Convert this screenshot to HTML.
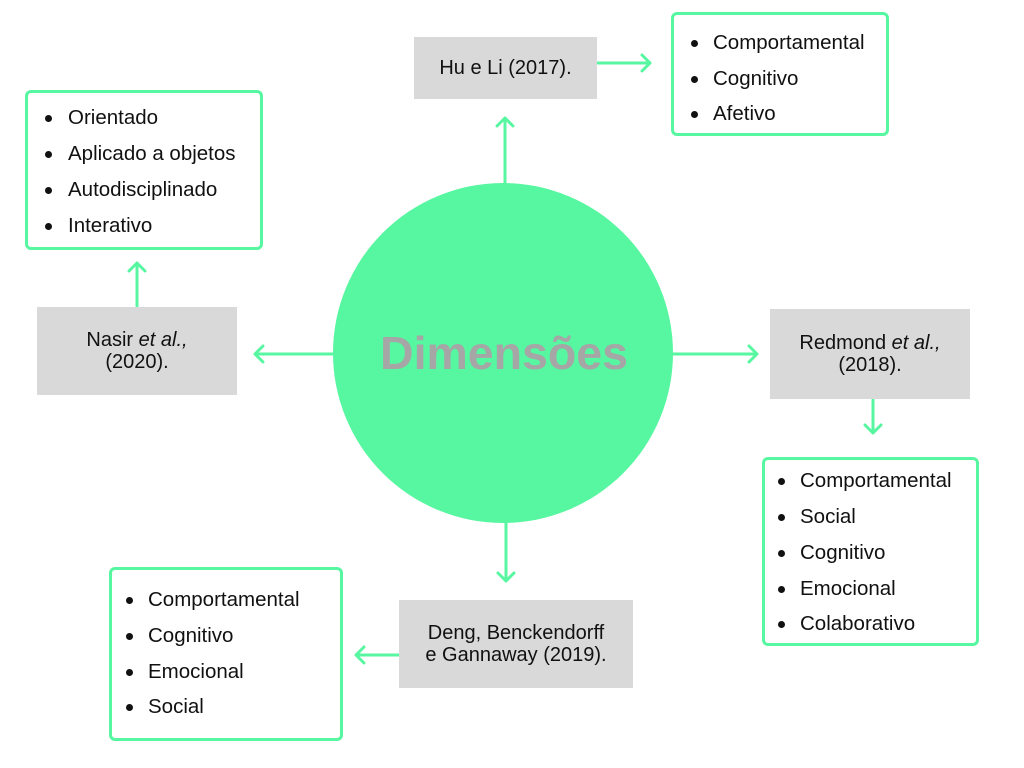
<!DOCTYPE html>
<html><head><meta charset="utf-8"><style>
body{margin:0;width:1024px;height:768px;background:#fff;position:relative;overflow:hidden;font-family:"Liberation Sans",sans-serif;color:#111}
.b{position:absolute;border:3px solid #57f6a0;border-radius:6px;box-sizing:border-box}
.g{position:absolute;background:#d9d9d9;text-align:center;font-size:20px;line-height:22px;box-sizing:border-box}
.t{position:absolute;font-size:20.5px;line-height:24px;height:24px;white-space:nowrap}
.d{position:absolute;width:7px;height:7px;border-radius:50%;background:#111}
</style></head><body>
<svg width="1024" height="768" style="position:absolute;left:0;top:0">
<circle cx="503" cy="353" r="170" fill="#57f6a0"/>
<g stroke="#57f6a0" stroke-width="3" fill="none" stroke-linecap="round" stroke-linejoin="round">
<path d="M505 183V118M497 126l8-8 8 8"/>
<path d="M598 63H650M642 55l8 8-8 8"/>
<path d="M137 306V263M129 271l8-8 8 8"/>
<path d="M333 354H255M263 346l-8 8 8 8"/>
<path d="M673 354H757M749 346l8 8-8 8"/>
<path d="M873 400V433M865 425l8 8 8-8"/>
<path d="M506 522V581M498 573l8 8 8-8"/>
<path d="M399 655H356M364 647l-8 8 8 8"/>
</g>
<text x="504" y="369" text-anchor="middle" font-family="Liberation Sans" font-weight="bold" font-size="46" fill="#a6a6a6" textLength="248" lengthAdjust="spacingAndGlyphs">Dimensões</text>
</svg>
<div class="g" style="left:414px;top:37px;width:183px;height:62px;padding-top:20px">Hu e Li (2017).</div>
<div class="g" style="left:37px;top:307px;width:200px;height:88px;padding-top:22px">Nasir <i>et al.,</i><br>(2020).</div>
<div class="g" style="left:770px;top:309px;width:200px;height:90px;padding-top:23px">Redmond <i>et al.,</i><br>(2018).</div>
<div class="g" style="left:399px;top:600px;width:234px;height:88px;padding-top:22px">Deng, Benckendorff<br>e Gannaway (2019).</div>

<div class="b" style="left:671px;top:12px;width:218px;height:124px"></div>
<div class="d" style="left:691px;top:40px"></div><div class="t" style="left:713px;top:31px">Comportamental</div>
<div class="d" style="left:691px;top:76px"></div><div class="t" style="left:713px;top:67px">Cognitivo</div>
<div class="d" style="left:691px;top:111px"></div><div class="t" style="left:713px;top:102px">Afetivo</div>

<div class="b" style="left:25px;top:90px;width:238px;height:160px"></div>
<div class="d" style="left:45px;top:115px"></div><div class="t" style="left:68px;top:106px">Orientado</div>
<div class="d" style="left:45px;top:151px"></div><div class="t" style="left:68px;top:142px">Aplicado a objetos</div>
<div class="d" style="left:45px;top:187px"></div><div class="t" style="left:68px;top:178px">Autodisciplinado</div>
<div class="d" style="left:45px;top:223px"></div><div class="t" style="left:68px;top:214px">Interativo</div>

<div class="b" style="left:762px;top:457px;width:217px;height:189px"></div>
<div class="d" style="left:778px;top:478px"></div><div class="t" style="left:800px;top:469px">Comportamental</div>
<div class="d" style="left:778px;top:514px"></div><div class="t" style="left:800px;top:505px">Social</div>
<div class="d" style="left:778px;top:550px"></div><div class="t" style="left:800px;top:541px">Cognitivo</div>
<div class="d" style="left:778px;top:586px"></div><div class="t" style="left:800px;top:577px">Emocional</div>
<div class="d" style="left:778px;top:621px"></div><div class="t" style="left:800px;top:612px">Colaborativo</div>

<div class="b" style="left:109px;top:567px;width:234px;height:174px"></div>
<div class="d" style="left:126px;top:597px"></div><div class="t" style="left:148px;top:588px">Comportamental</div>
<div class="d" style="left:126px;top:633px"></div><div class="t" style="left:148px;top:624px">Cognitivo</div>
<div class="d" style="left:126px;top:669px"></div><div class="t" style="left:148px;top:660px">Emocional</div>
<div class="d" style="left:126px;top:704px"></div><div class="t" style="left:148px;top:695px">Social</div>
</body></html>
